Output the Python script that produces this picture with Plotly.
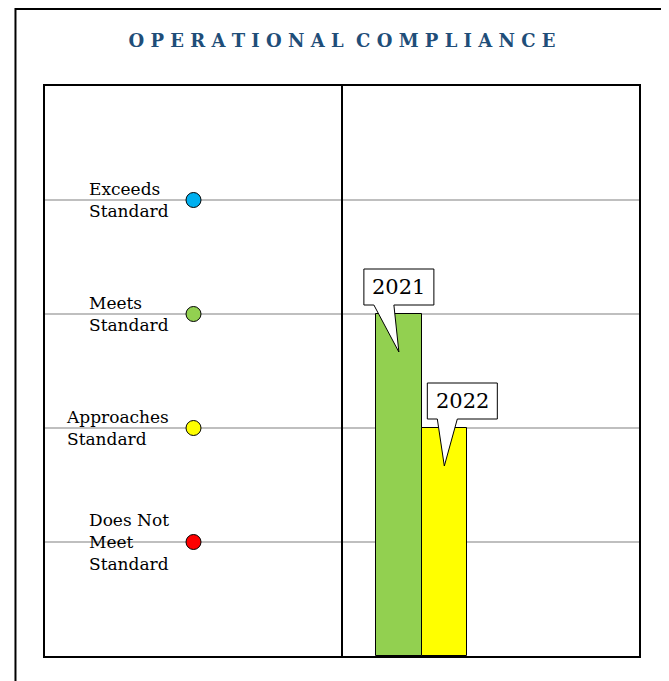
import plotly.graph_objects as go

# rating scale shown on the left
levels = ["Does Not<br>Meet<br>Standard", "Approaches<br>Standard", "Meets<br>Standard", "Exceeds<br>Standard"]
level_values = [1, 2, 3, 4]
level_colors = ["#FF0000", "#FFFF00", "#92D050", "#00B0F0"]

# yearly ratings
years = ["2021", "2022"]
scores = [3, 2]
bar_colors = ["#92D050", "#FFFF00"]

title = "OPERATIONAL COMPLIANCE"
serif = "DejaVu Serif"

fig = go.Figure()

# the dots for each level
fig.add_trace(go.Scatter(
    x=[1] * len(level_values),
    y=level_values,
    mode="markers",
    marker=dict(size=15, color=level_colors, line=dict(color="black", width=1)),
    hoverinfo="skip",
    showlegend=False,
))

bar_width = 0.306
bar_x = [2.23 + bar_width * (i + 0.5) for i in range(len(years))]
fig.add_trace(go.Bar(
    x=bar_x,
    y=scores,
    width=bar_width,
    marker=dict(color=bar_colors, line=dict(color="black", width=1)),
    showlegend=False,
))

for lab, val in zip(levels, level_values):
    fig.add_annotation(
        x=1, y=val, text=lab, showarrow=False,
        xanchor="right", yanchor="middle", align="left", xshift=-23,
        font=dict(family=serif, size=17, color="black"),
    )

# callout boxes over the bars
label_shift = [0, 18]
for yr, sc, bx, sh in zip(years, scores, bar_x, label_shift):
    path = (f"M {sh-35},9 L {sh-25},9 L 0,-38 L {sh-5},9 L {sh+35},9 "
            f"L {sh+35},45 L {sh-35},45 Z")
    fig.add_shape(
        type="path", xref="x", yref="y", xsizemode="pixel", ysizemode="pixel",
        xanchor=bx, yanchor=sc, path=path,
        fillcolor="white", line=dict(color="black", width=1), layer="above",
    )
    fig.add_annotation(
        x=bx, y=sc, text=yr, showarrow=False, xshift=sh, yshift=27,
        xanchor="center", yanchor="middle",
        font=dict(family=serif, size=21, color="black"),
    )

# divider between the two halves
fig.add_shape(type="line", xref="x", yref="y", x0=2, x1=2, y0=0, y1=5,
              line=dict(color="black", width=2))

# outer frame
fig.add_shape(type="rect", xref="paper", yref="paper",
              x0=-0.0497, x1=1.057, y0=-0.2, y1=1.135,
              line=dict(color="black", width=2), fillcolor="rgba(0,0,0,0)")

spaced = "\u00a0\u00a0".join("\u00a0".join(w) for w in title.split(" "))
fig.update_layout(
    width=669, height=681,
    margin=dict(l=37, r=38, t=78, b=33),
    paper_bgcolor="white", plot_bgcolor="white",
    title=dict(text=f"<b>{spaced}</b>", x=0.5, xref="paper", xanchor="center",
               y=1 - 33 / 681, yanchor="middle",
               font=dict(family=serif, size=18, color="#1F4E79")),
    xaxis=dict(range=[0, 4], showgrid=False, zeroline=False, showticklabels=False,
               ticks="", showline=True, mirror=True, linecolor="black", linewidth=2),
    yaxis=dict(range=[0, 5], tickvals=[1, 2, 3, 4], showgrid=True, gridcolor="#BFBFBF",
               gridwidth=1.5, zeroline=False, showticklabels=False, ticks="",
               showline=True, mirror=True, linecolor="black", linewidth=2),
    bargap=0,
)

fig.write_html("out.html")
